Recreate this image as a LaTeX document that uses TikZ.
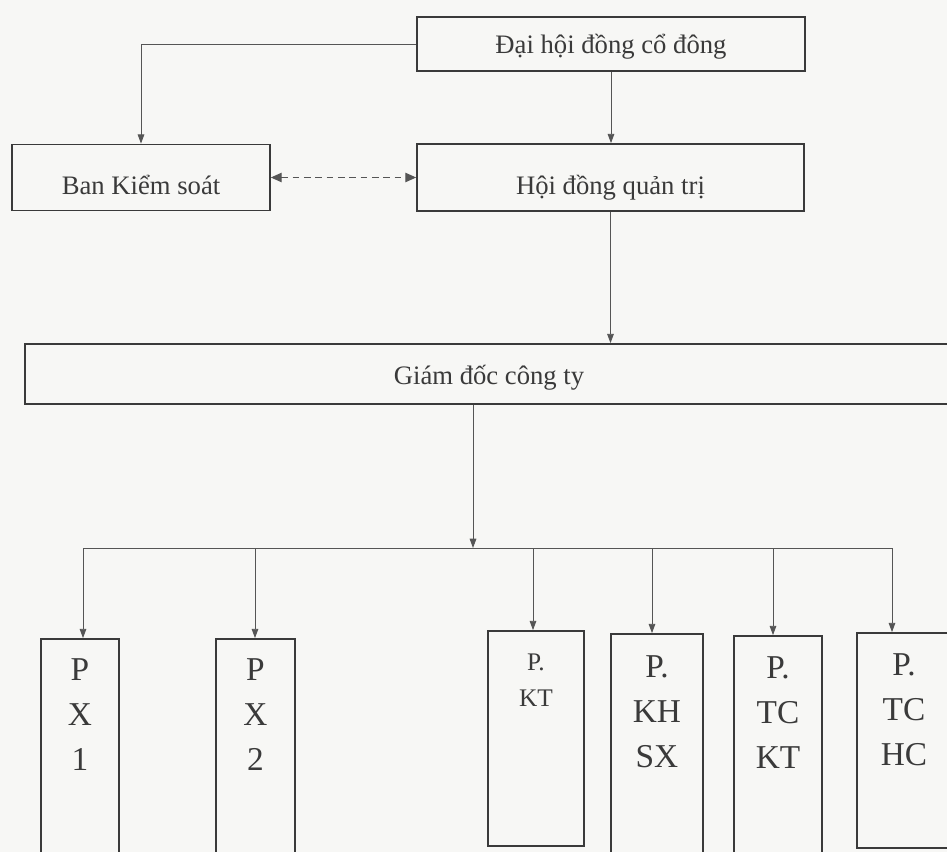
\documentclass[tikz,border=0pt]{standalone}
\usepackage{fontspec}
\setmainfont{Liberation Serif}
\usetikzlibrary{arrows.meta, positioning}
\definecolor{ink}{HTML}{3A3A3A}
\definecolor{wire}{HTML}{555555}
\definecolor{paper}{HTML}{F7F7F5}

\begin{document}
\begin{tikzpicture}[x=0.75pt, y=-0.75pt, >={Triangle[length=7pt,width=5pt]},
    box/.style={draw=ink, line width=1.3pt, inner sep=0pt, text=ink, text depth=4pt,
        font=\fontsize{20pt}{24pt}\selectfont},
    unit/.style={draw=ink, line width=1.3pt, inner sep=0pt},
    lbl/.style={align=center, inner sep=0pt, text=ink,
        font=\fontsize{25pt}{33.75pt}\selectfont},
    link/.style={draw=wire, line width=0.7pt}]
    % Page
    \fill[paper] (0,0) rectangle (947,852);
    \useasboundingbox (0,0) rectangle (947,852);

    % Top level boxes
    \node[box, text height=18pt, minimum width=291pt, minimum height=40.5pt] (dhcd) at (611,44) {Đại hội đồng cổ đông};
    \node[box, text height=30pt, minimum width=193.5pt, minimum height=49.5pt] (bks) at (141,177.5) {Ban Kiểm soát};
    \node[box, text height=30pt, minimum width=290.25pt, minimum height=50.25pt] (hdqt) at (610.5,177.5) {Hội đồng quản trị};
    \node[box, text height=19.5pt, minimum width=696pt, minimum height=45pt] (gd) at (489,374) {Giám đốc công ty};

    % Departments
    \node[unit, minimum width=58.5pt, minimum height=180.75pt] (px1) at (80,759.5) {};
    \node[unit, minimum width=59.25pt, minimum height=180.75pt] (px2) at (255.5,759.5) {};
    \node[unit, minimum width=72pt, minimum height=161.25pt] (pkt) at (536,738.5) {};
    \node[unit, minimum width=69pt, minimum height=184.5pt] (pkhsx) at (657,757) {};
    \node[unit, minimum width=66pt, minimum height=183pt] (ptckt) at (778,758) {};
    \node[unit, minimum width=70.5pt, minimum height=161.25pt] (ptchc) at (904,740.5) {};

    \node[lbl, below=15.5pt of px1.north] (px1t) {P\\X\\1};
    \node[lbl, below=15.5pt of px2.north] (px2t) {P\\X\\2};
    \node[lbl, below=18pt of pkt.north, font=\fontsize{19pt}{27pt}\selectfont] (pktt) {P.\\KT};
    \node[lbl, below=16.5pt of pkhsx.north] (pkhsxt) {P.\\KH\\SX};
    \node[lbl, below=16pt of ptckt.north] (ptcktt) {P.\\TC\\KT};
    \node[lbl, below=16pt of ptchc.north] (ptchct) {P.\\TC\\HC};

    % Connectors above
    \draw[link, ->] (dhcd.west) -| (bks.north);
    \draw[link, ->] (dhcd.south) -- (dhcd.south |- hdqt.north);
    \draw[link, dash pattern=on 5pt off 3.5pt, {Triangle[length=8pt,width=7pt]}-{Triangle[length=8pt,width=7pt]}]
        (bks.east) -- (hdqt.west);
    \draw[link, ->] (hdqt.south) -- (hdqt.south |- gd.north);

    % Bar to the departments
    \coordinate (split) at (473,548);
    \draw[link, ->] (split |- gd.south) -- (split);
    \foreach \n/\x in {px1/83, px2/255, pkt/533, pkhsx/652, ptckt/773, ptchc/892}
        \coordinate (d-\n) at (\x,548);
    \draw[link] (d-px1) -- (d-ptchc);
    \foreach \n in {px1, px2, pkt, pkhsx, ptckt, ptchc}
        \draw[link, ->] (d-\n) -- (d-\n |- \n.north);
\end{tikzpicture}
\end{document}
